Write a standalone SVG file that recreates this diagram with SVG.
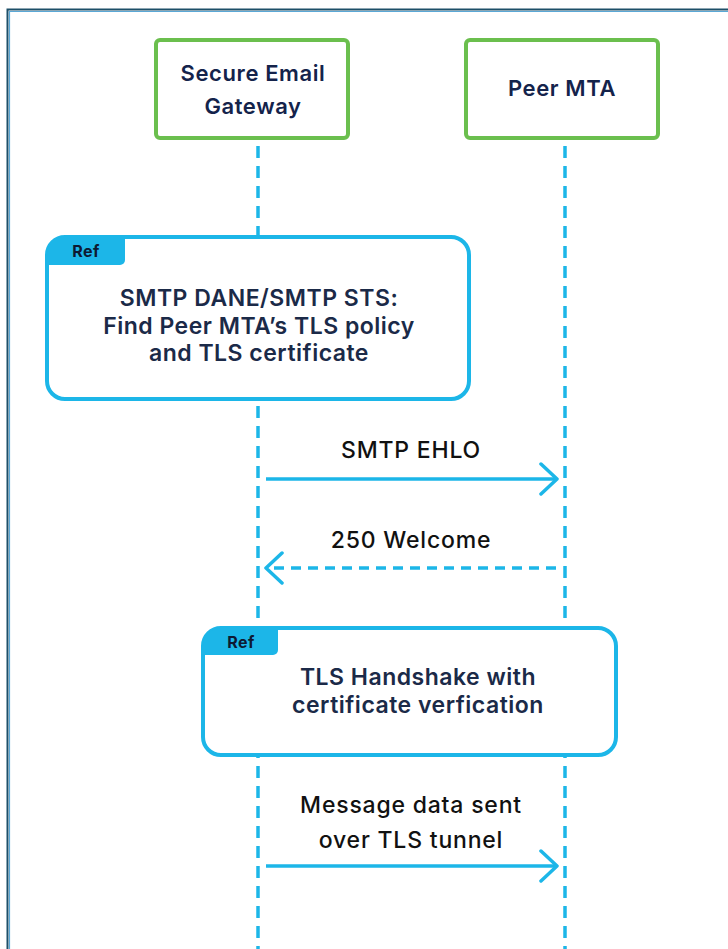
<svg xmlns="http://www.w3.org/2000/svg" width="728" height="949" viewBox="0 0 728 949">
<style>
.node{fill:#fff;stroke:#6bbf4e;stroke-width:4}
.nt{font-family:Inter,"Liberation Sans",sans-serif;font-size:22px;font-weight:600;letter-spacing:0.6px;fill:#14234b;text-anchor:middle}
.life{stroke:#1cb6e8;stroke-width:3.5;stroke-dasharray:12 8;fill:none}
.ref{fill:#fff;stroke:#1cb6e8;stroke-width:4}
.tab{fill:#1cb6e8}
.tabt{font-family:Inter,"Liberation Sans",sans-serif;font-size:16px;font-weight:700;letter-spacing:0.5px;fill:#0d1a33;text-anchor:middle}
.rt{font-family:Inter,"Liberation Sans",sans-serif;font-size:23px;font-weight:600;letter-spacing:0.5px;fill:#1b2a48;text-anchor:middle}
.msg{stroke:#1cb6e8;stroke-width:3.5;fill:none}
.ml{font-family:Inter,"Liberation Sans",sans-serif;font-size:23px;font-weight:500;letter-spacing:0.8px;fill:#111;text-anchor:middle}
</style>
<defs>
<marker id="ah" viewBox="0 0 22 34" refX="19" refY="17" markerWidth="22" markerHeight="34" markerUnits="userSpaceOnUse" orient="auto">
<path d="M3 2 L19 17 L3 32" fill="none" stroke="#1cb6e8" stroke-width="3.5" stroke-linecap="round" stroke-linejoin="round"/>
</marker>
</defs>
<rect width="728" height="949" fill="#fff"/>
<g id="frame">
<path d="M7.5 949 V9.5 H728" fill="none" stroke="#1d4f68" stroke-width="2"/>
<path d="M9.5 949 V11.5 H728" fill="none" stroke="#5aa8d6" stroke-width="1.2"/>
</g>
<g id="lifelines">
<line class="life" x1="258" y1="146" x2="258" y2="949"/>
<line class="life" x1="565" y1="146" x2="565" y2="949"/>
</g>
<g id="gateway">
<rect class="node" x="156" y="40" width="192" height="98" rx="4"/>
<text class="nt" x="253" y="81">Secure Email</text>
<text class="nt" x="253" y="114">Gateway</text>
</g>
<g id="peer">
<rect class="node" x="466" y="40" width="192" height="98" rx="4"/>
<text class="nt" x="562" y="96">Peer MTA</text>
</g>
<g id="ref1">
<rect class="ref" x="47" y="237" width="422" height="162" rx="18"/>
<path class="tab" d="M47 255 A18 18 0 0 1 65 237 H125 V260 A5 5 0 0 1 120 265 H47 Z"/>
<text class="tabt" x="86" y="257">Ref</text>
<text class="rt" x="259" y="306">SMTP DANE/SMTP STS:</text>
<text class="rt" x="259" y="334">Find Peer MTA’s TLS policy</text>
<text class="rt" x="259" y="361">and TLS certificate</text>
</g>
<g id="ref2">
<rect class="ref" x="203" y="628" width="413" height="127" rx="18"/>
<path class="tab" d="M203 646 A18 18 0 0 1 221 628 H278 V650 A5 5 0 0 1 273 655 H203 Z"/>
<text class="tabt" x="241" y="648">Ref</text>
<text class="rt" x="418" y="685">TLS Handshake with</text>
<text class="rt" x="418" y="713">certificate verfication</text>
</g>
<g id="connectors">
<line class="msg" x1="266" y1="479" x2="557" y2="479" marker-end="url(#ah)"/>
<text class="ml" x="411" y="458">SMTP EHLO</text>
<line class="msg" x1="556" y1="568" x2="266" y2="568" stroke-dasharray="10 7" marker-end="url(#ah)"/>
<text class="ml" x="411" y="548">250 Welcome</text>
<line class="msg" x1="266" y1="866" x2="557" y2="866" marker-end="url(#ah)"/>
<text class="ml" x="411" y="813">Message data sent</text>
<text class="ml" x="411" y="848">over TLS tunnel</text>
</g>
</svg>
